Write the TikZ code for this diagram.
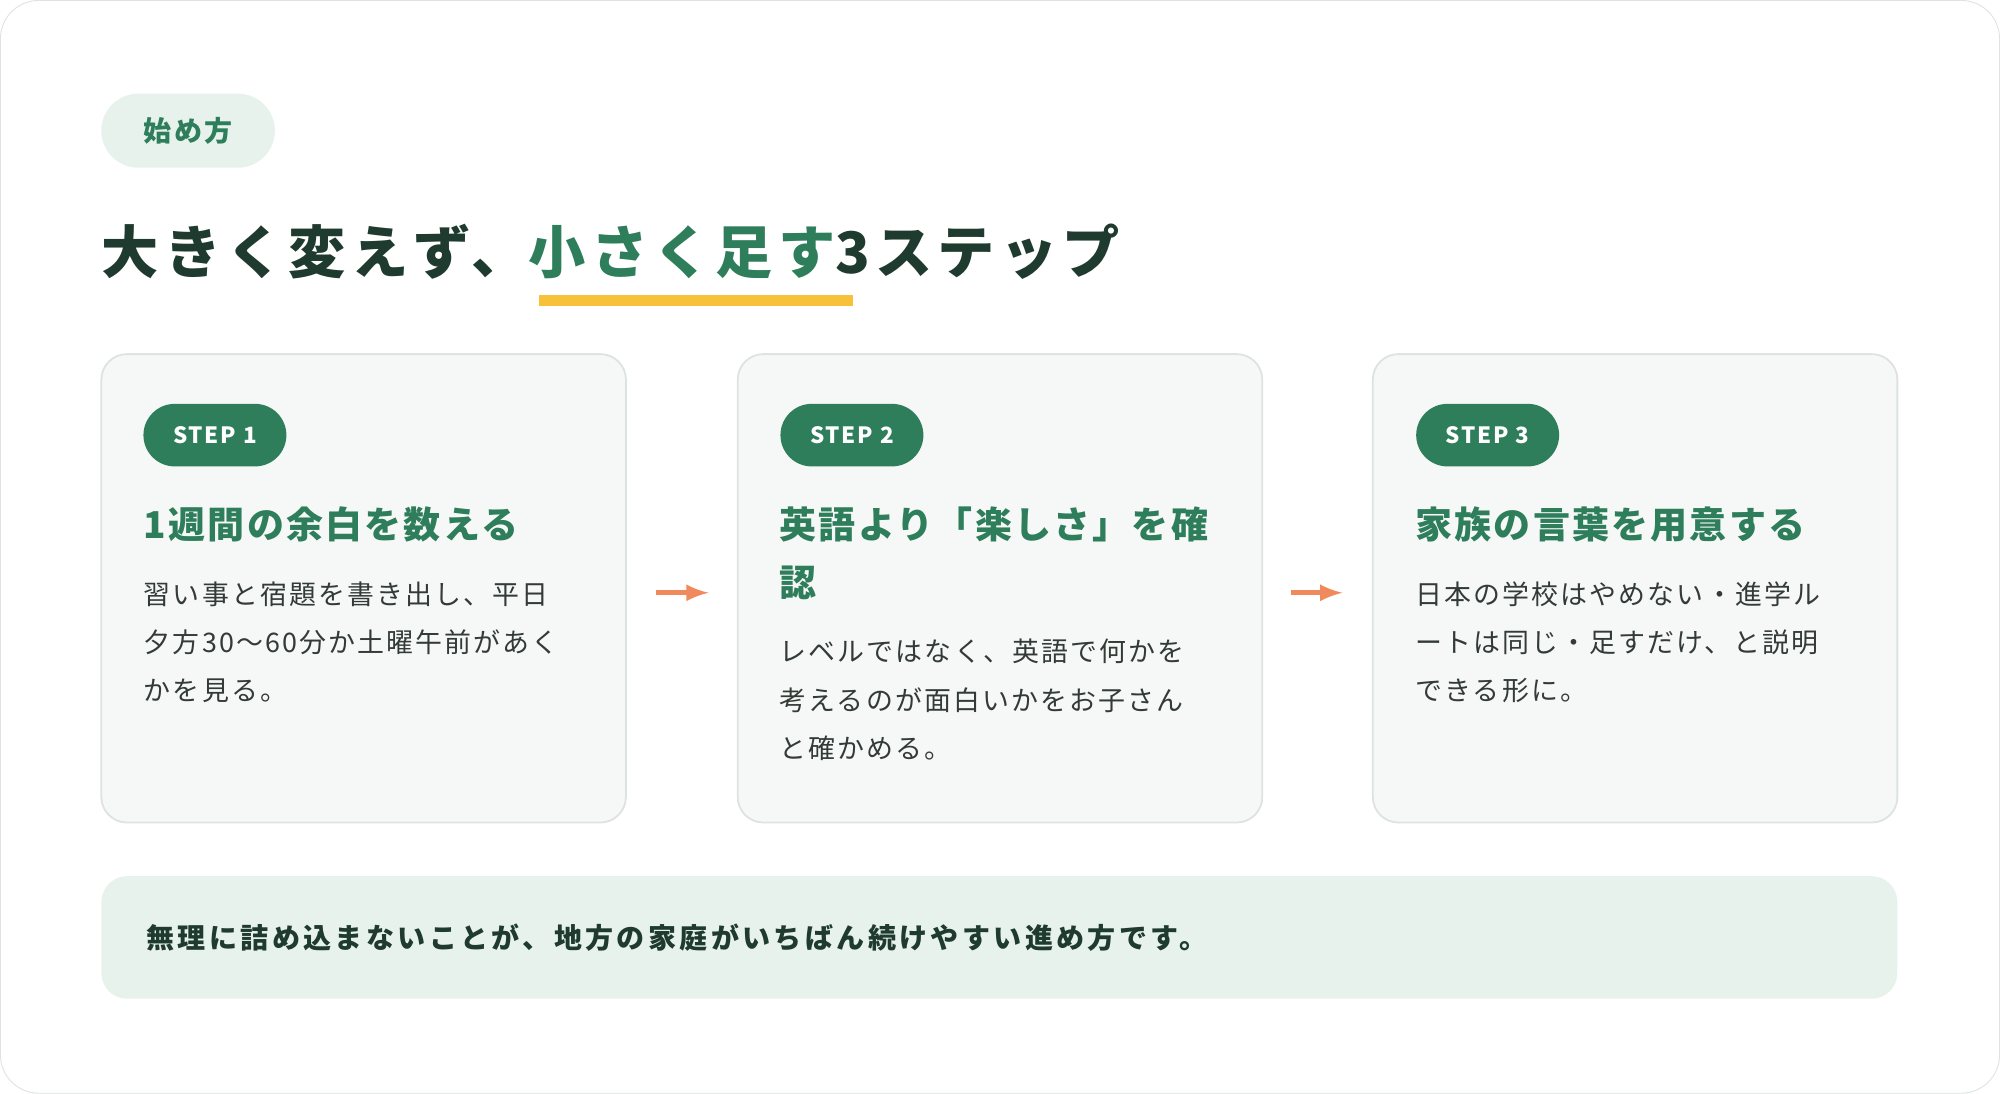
\documentclass[tikz,border=0pt]{standalone}
\usepackage{fontspec}
\setmainfont{Noto Sans CJK JP}
\usetikzlibrary{calc,positioning}
\definecolor{darkgreen}{HTML}{1F3A2E}
\definecolor{stepgreen}{HTML}{2E7D5B}
\definecolor{palegreen}{HTML}{E8F2EC}
\definecolor{cardgray}{HTML}{F6F8F7}
\definecolor{cardline}{HTML}{DDE3E0}
\definecolor{accent}{HTML}{F7C13A}
\definecolor{arrowc}{HTML}{F08A5D}
\definecolor{bodytext}{HTML}{333B37}

\begin{document}
\begin{tikzpicture}[x=0.02cm,y=-0.02cm,
  card/.style={draw=cardline,fill=cardgray,rounded corners=0.4cm,minimum width=8.22cm,minimum height=7.34cm,line width=0.8pt},
  badge/.style={fill=stepgreen,text=white,rounded corners=0.49cm,minimum width=2.24cm,minimum height=0.98cm,font=\fontsize{10}{12}\selectfont\bfseries\addfontfeatures{LetterSpace=8}},
  steptitle/.style={anchor=north west,align=left,text=stepgreen,font=\fontsize{16.5}{26}\selectfont\bfseries\addfontfeatures{LetterSpace=6}},
  body/.style={anchor=north west,align=left,text=bodytext,font=\fontsize{12}{21.5}\selectfont\addfontfeatures{LetterSpace=8}},
  arrow/.style={-latex,line width=2.4pt,draw=arrowc}]
  % frame
  \draw[cardline,fill=white,rounded corners=0.6cm] (1,1) rectangle (1567,857);
  % header
  \node[fill=palegreen,rounded corners=0.58cm,minimum width=2.72cm,minimum height=1.16cm,text=stepgreen,font=\fontsize{12.5}{14}\selectfont\bfseries\addfontfeatures{LetterSpace=10}] (tag) at (148,103) {始め方};
  \fill[accent] (423,232) rectangle (669,240);
  \node[anchor=base west,inner sep=0pt,text=darkgreen,font=\fontsize{25.5}{30}\selectfont\bfseries\addfontfeatures{LetterSpace=9}] (title) at (80,215)
    {大きく変えず、\textcolor{stepgreen}{小さく足す}3ステップ};
  % cards
  \node[card] (card1) at (285.5,461.5) {};
  \node[card] (card2) at (784,461.5) {};
  \node[card] (card3) at (1281.5,461.5) {};
  \node[badge] (step1) at (169,341.5) {STEP 1};
  \node[badge] (step2) at (668,341.5) {STEP 2};
  \node[badge] (step3) at (1166,341.5) {STEP 3};
  \node[steptitle,inner sep=0pt] (title1) at (113,397) {1週間の余白を数える};
  \node[steptitle,inner sep=0pt] (title2) at (611,397) {英語より「楽しさ」を確\\認};
  \node[steptitle,inner sep=0pt] (title3) at (1109,397) {家族の言葉を用意する};
  \node[body,inner sep=0pt] (body1) at (113,456) {習い事と宿題を書き出し、平日\\夕方30〜60分か土曜午前があく\\かを見る。};
  \node[body,inner sep=0pt] (body2) at (611,501) {レベルではなく、英語で何かを\\考えるのが面白いかをお子さん\\と確かめる。};
  \node[body,inner sep=0pt] (body3) at (1109,456) {日本の学校はやめない・進学ル\\ートは同じ・足すだけ、と説明\\できる形に。};
  \draw[arrow,shorten <=0.46cm,shorten >=0.44cm] ([yshift=-0.07cm]card1.east) -- ([yshift=-0.07cm]card2.west);
  \draw[arrow,shorten <=0.44cm,shorten >=0.46cm] ([yshift=-0.07cm]card2.east) -- ([yshift=-0.07cm]card3.west);
  % footer
  \node[fill=palegreen,rounded corners=0.4cm,minimum width=28.14cm,minimum height=1.92cm] (note) at (783.5,735) {};
  \node[anchor=west,inner sep=0pt,text=darkgreen,font=\fontsize{12.5}{15}\selectfont\bfseries\addfontfeatures{LetterSpace=12}] (notetext) at (115,735)
    {無理に詰め込まないことが、地方の家庭がいちばん続けやすい進め方です。};
\end{tikzpicture}
\end{document}
